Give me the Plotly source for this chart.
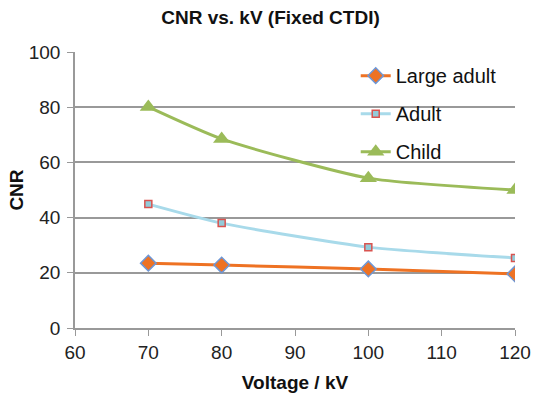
import plotly.graph_objects as go

voltage_kv = [70, 80, 100, 120]
cnr_large_adult = [23.5, 22.8, 21.4, 19.6]
cnr_adult = [44.9, 38.0, 29.3, 25.4]
cnr_child = [80.1, 68.5, 54.3, 50.0]

x_ticks = [60, 70, 80, 90, 100, 110, 120]
y_ticks = [0, 20, 40, 60, 80, 100]

FONT = "Liberation Sans, Arial, sans-serif"

fig = go.Figure()

fig.add_trace(go.Scatter(
    x=voltage_kv, y=cnr_large_adult, name="Large adult", legendgroup="a",
    mode="lines+markers", line=dict(color="#EE7223", width=3, shape="spline", smoothing=0.6),
    marker=dict(symbol="diamond", size=12, color="#EE7223", line=dict(color="#6E97D6", width=1.5)),
))
fig.add_trace(go.Scatter(
    x=voltage_kv, y=cnr_adult, name="Adult", legendgroup="b",
    mode="lines+markers", line=dict(color="#A8DAEA", width=3, shape="spline", smoothing=0.6),
    marker=dict(symbol="square", size=7, color="#93CBD9", line=dict(color="#D9534F", width=1.5)),
))
fig.add_trace(go.Scatter(
    x=voltage_kv, y=cnr_child, name="Child", legendgroup="c",
    mode="lines+markers", line=dict(color="#9BBB59", width=3, shape="spline", smoothing=0.6),
    marker=dict(symbol="triangle-up", size=15, color="#9BBB59", line=dict(width=0)),
))

tick_font = dict(family=FONT, size=19, color="#222")
title_font = dict(family=FONT, size=19, color="#111")

fig.update_layout(
    width=541, height=394,
    margin=dict(l=75, r=26, t=52, b=66),
    paper_bgcolor="white", plot_bgcolor="white",
    title=dict(text="<b>CNR vs. kV (Fixed CTDI)</b>", x=0.5, xanchor="center", y=0.955, yanchor="middle",
               font=dict(family=FONT, size=19, color="#111")),
    font=tick_font,
    showlegend=True,
    legend=dict(x=0.638, y=0.985, xanchor="left", yanchor="top", bgcolor="rgba(0,0,0,0)",
                font=dict(family=FONT, size=20, color="#111"),
                tracegroupgap=9, traceorder="grouped", itemwidth=30),
    xaxis=dict(range=[60, 120], tickvals=x_ticks, showgrid=False, showline=True, linecolor="#999",
               linewidth=1.5, ticks="outside", ticklen=6, tickcolor="#999", zeroline=False,
               tickfont=tick_font, automargin=False,
               title=dict(text="<b>Voltage / kV</b>", font=title_font, standoff=14)),
    yaxis=dict(range=[0, 100], tickvals=y_ticks, showgrid=True, gridcolor="#999", gridwidth=1.5,
               showline=True, linecolor="#999", linewidth=1.5, ticks="outside", ticklen=6, tickcolor="#999",
               zeroline=False, tickfont=tick_font, automargin=False, ticklabelstandoff=3,
               title=dict(text="<b>CNR</b>", font=title_font, standoff=0)),
)

fig.write_html("out.html")
